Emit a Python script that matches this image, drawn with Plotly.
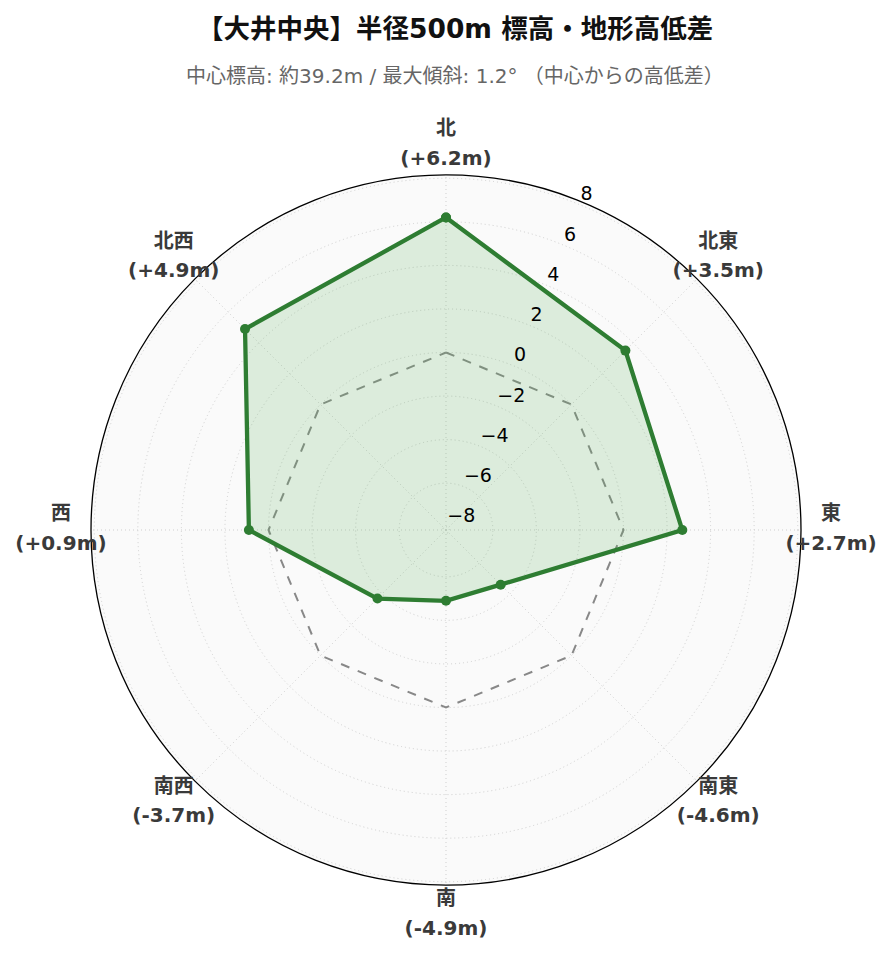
import plotly.graph_objects as go

directions = ["北", "北東", "東", "南東", "南", "南西", "西", "北西"]
diffs = [6.2, 3.5, 2.7, -4.6, -4.9, -3.7, 0.9, 4.9]
radial_ticks = [-8, -6, -4, -2, 0, 2, 4, 6, 8]
title_text = "【大井中央】半径500m 標高・地形高低差"
subtitle_text = "中心標高: 約39.2m / 最大傾斜: 1.2° （中心からの高低差）"

FONT = "DejaVu Sans, Noto Sans CJK JP, sans-serif"
W, H = 893, 962
OFF = 8                 # default page body margin
CX, CY = 446 - OFF, 530 - OFF   # polar centre in figure pixels
RAD = 355               # polar radius in px
RAD2 = 420              # radius of transparent label layer in px
R_RANGE = [-8.15, 8.15]
R_RANGE2 = [R_RANGE[0], R_RANGE[0] + (R_RANGE[1] - R_RANGE[0]) * RAD2 / RAD]
LABEL_R = 9.53          # data-unit radius of direction labels
TICK_THETA = 22.5       # angle of radial tick labels


def dom(rad):
    return dict(x=[(CX - rad) / W, (CX + rad) / W],
                y=[(H - CY - rad) / H, (H - CY + rad) / H])


step = 360 / len(directions)
angles = [i * step for i in range(len(directions))]
theta_closed = angles + angles[:1]
r_closed = diffs + diffs[:1]
zero_closed = [0] * len(theta_closed)
name_labels = [f"<b>{d}</b>" for d in directions]
value_labels = [f"<b>({v:+.1f}m)</b>" for v in diffs]

fig = go.Figure()
fig.add_trace(go.Scatterpolar(
    r=zero_closed, theta=theta_closed, mode="lines",
    line=dict(color="#888888", width=2, dash="dash"),
    hoverinfo="skip", showlegend=False))
fig.add_trace(go.Scatterpolar(
    r=r_closed, theta=theta_closed, mode="lines+markers",
    fill="toself", fillcolor="rgba(100,180,100,0.2)",
    line=dict(color="#2e7d32", width=4.3),
    marker=dict(color="#2e7d32", size=10),
    showlegend=False))
fig.add_trace(go.Scatterpolar(
    r=radial_ticks, theta=[TICK_THETA] * len(radial_ticks), mode="text",
    text=[str(t).replace("-", "−") for t in radial_ticks],
    textposition="top right",
    textfont=dict(size=19, color="black", family=FONT),
    hoverinfo="skip", showlegend=False, cliponaxis=False))
for labels, pos in ((name_labels, "top center"), (value_labels, "bottom center")):
    fig.add_trace(go.Scatterpolar(
        r=[LABEL_R] * len(directions), theta=angles, mode="markers+text",
        marker=dict(size=6, color="rgba(0,0,0,0)"),
        text=labels, textposition=pos,
        textfont=dict(size=20, color="#3a3a3a", family=FONT),
        hoverinfo="skip", showlegend=False, cliponaxis=False, subplot="polar2"))

hidden_axis = dict(showticklabels=False, showline=False, showgrid=False, ticks="")

fig.update_layout(
    width=W, height=H,
    paper_bgcolor="white",
    font=dict(family=FONT),
    margin=dict(l=0, r=0, t=0, b=0, autoexpand=False),
    showlegend=False,
    polar=dict(
        domain=dom(RAD),
        bgcolor="#fafafa",
        angularaxis=dict(
            type="linear", thetaunit="degrees",
            direction="clockwise", rotation=90,
            tickmode="array", tickvals=angles,
            showticklabels=False,
            showline=True, linecolor="black", linewidth=1.3,
            showgrid=True, gridcolor="#cfcfcf", griddash="1px,3px", gridwidth=1.2,
            ticks="",
        ),
        radialaxis=dict(
            range=R_RANGE, angle=90 - TICK_THETA,
            tickmode="array", tickvals=radial_ticks,
            showticklabels=False,
            showline=False, ticks="",
            showgrid=True, gridcolor="#cfcfcf", griddash="1px,3px", gridwidth=1.2,
        ),
    ),
    polar2=dict(
        domain=dom(RAD2),
        bgcolor="rgba(0,0,0,0)",
        angularaxis=dict(type="linear", thetaunit="degrees",
                         direction="clockwise", rotation=90, **hidden_axis),
        radialaxis=dict(range=R_RANGE2, **hidden_axis),
    ),
    annotations=[
        dict(text=f"<b>{title_text}</b>", x=0.5, y=(H - (28 - OFF)) / H,
             xref="paper", yref="paper", yanchor="middle",
             showarrow=False, font=dict(size=26.5, color="#111111", family=FONT)),
        dict(text=subtitle_text, x=0.5, y=(H - (76 - OFF)) / H,
             xref="paper", yref="paper", yanchor="middle",
             showarrow=False, font=dict(size=20, color="#666666", family=FONT)),
    ],
)

fig.write_html("out.html")
